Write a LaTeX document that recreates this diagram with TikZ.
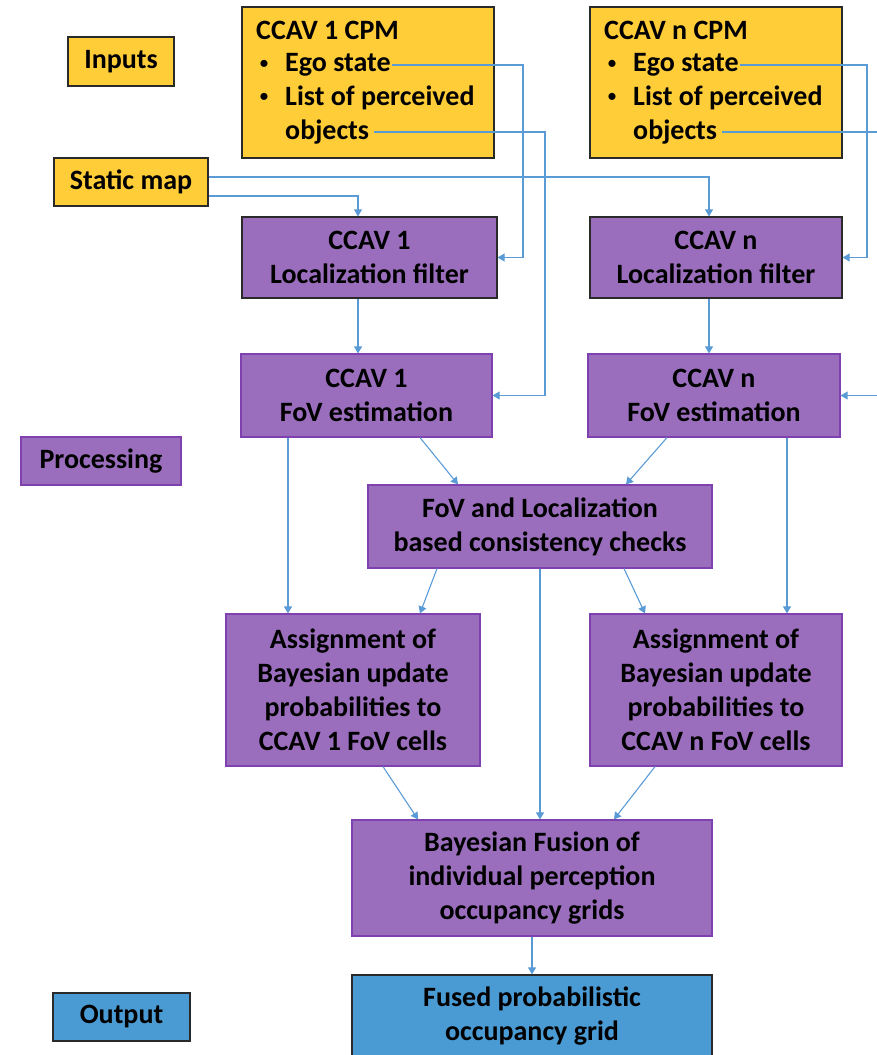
\documentclass[tikz,border=0pt]{standalone}
\usepackage{fontspec}
\setmainfont{Carlito}
\usetikzlibrary{arrows.meta}
\definecolor{gold}{HTML}{FFCD38}
\definecolor{purp}{HTML}{9A6EBC}
\definecolor{purpline}{HTML}{7F40B0}
\definecolor{outblue}{HTML}{4A9BD4}
\definecolor{arrblue}{HTML}{5B9BD5}
\definecolor{darkline}{HTML}{2A2A2A}
\tikzset{
  box/.style={draw, line width=1.2pt, inner sep=0pt, align=center, font=\bfseries\fontsize{28}{34}\selectfont},
  goldbox/.style={box, fill=gold, draw=darkline},
  purpbox/.style={box, fill=purp, draw=purpline},
  purpdark/.style={box, fill=purp, draw=darkline},
  bluebox/.style={box, fill=outblue, draw=darkline},
  txt/.style={inner sep=0pt, anchor=west, font=\bfseries\fontsize{28}{34}\selectfont},
  bul/.style={inner sep=0pt, font=\fontsize{20}{24}\selectfont},
  arr/.style={draw=arrblue, line width=1.1pt, -{Triangle[width=8pt,length=7pt]}},
}
\begin{document}
\begin{tikzpicture}[x=1pt,y=-1pt]
\useasboundingbox (0,0) rectangle (876,1055);
% input boxes
\node[goldbox, minimum width=106pt, minimum height=49pt] (inputs) at (121,61.5) {Inputs};
\node[goldbox, minimum width=252pt, minimum height=151pt] (cpm1) at (368,82.5) {};
\node[goldbox, minimum width=252pt, minimum height=151pt] (cpmn) at (716,82.5) {};
\node[goldbox, minimum width=154pt, minimum height=48pt] (static) at (131,182) {Static map};
% CPM 1 text
\node[txt] (t1) at (256,30) {CCAV 1 CPM};
\node[bul] (b1a) at (264,65) {\textbullet};
\node[txt] (ego1) at (285,65) {Ego state};
\node[bul] (b1b) at (264,98) {\textbullet};
\node[txt] (list1) at (285,98) {List of perceived};
\node[txt] (obj1) at (285,132) {objects};
% CPM n text
\node[txt] (tn) at (604,30) {CCAV n CPM};
\node[bul] (bna) at (612,65) {\textbullet};
\node[txt] (egon) at (633,65) {Ego state};
\node[bul] (bnb) at (612,98) {\textbullet};
\node[txt] (listn) at (633,98) {List of perceived};
\node[txt] (objn) at (633,132) {objects};
% processing
\node[purpdark, minimum width=255pt, minimum height=81pt] (loc1) at (369.5,257.5) {CCAV 1\\Localization filter};
\node[purpdark, minimum width=252pt, minimum height=81pt] (locn) at (716,257.5) {CCAV n\\Localization filter};
\node[purpbox, minimum width=251pt, minimum height=83pt] (fov1) at (366.5,395.5) {CCAV 1\\FoV estimation};
\node[purpbox, minimum width=252pt, minimum height=83pt] (fovn) at (714,395.5) {CCAV n\\FoV estimation};
\node[purpbox, minimum width=160pt, minimum height=48pt] (proc) at (101,461) {Processing};
\node[purpbox, minimum width=344pt, minimum height=83pt] (cons) at (540,526.5) {FoV and Localization\\based consistency checks};
\node[purpbox, minimum width=254pt, minimum height=152pt] (asg1) at (353,690) {Assignment of\\Bayesian update\\probabilities to\\CCAV 1 FoV cells};
\node[purpbox, minimum width=252pt, minimum height=152pt] (asgn) at (716,690) {Assignment of\\Bayesian update\\probabilities to\\CCAV n FoV cells};
\node[purpbox, minimum width=360pt, minimum height=116pt] (fus) at (532,878) {Bayesian Fusion of\\individual perception\\occupancy grids};
% output
\node[bluebox, minimum width=137pt, minimum height=48pt] (out) at (121.5,1017) {Output};
\node[bluebox, minimum width=360pt, minimum height=94pt] (fused) at (532,1022) {};
\node[inner sep=0pt, align=center, font=\bfseries\fontsize{28}{34}\selectfont] (fusedtxt) at (532,1016) {Fused probabilistic\\occupancy grid};
% helper coordinates
\coordinate (e1) at (522,0);
\coordinate (o1) at (540,0);
\coordinate (en) at (866,0);
\coordinate (on) at (882,0);
\coordinate (s1) at (358,0);
\coordinate (sn) at (709,0);
% connectors from CPMs
\draw[arr] ([xshift=1pt]ego1.east) -- ([xshift=1pt]ego1.east -| e1) |- (loc1.east);
\draw[arr] ([xshift=5pt]obj1.east) -- ([xshift=5pt]obj1.east -| o1) |- (fov1.east);
\draw[arr] ([xshift=1pt]egon.east) -- ([xshift=1pt]egon.east -| en) |- (locn.east);
\draw[arr] ([xshift=5pt]objn.east) -- ([xshift=5pt]objn.east -| on) |- (fovn.east);
% static map
\draw[arr] ([yshift=-14pt]static.east) -| (loc1.north -| s1);
\draw[arr] ([yshift=5pt]static.east) -| (locn.north -| sn);
% localization to FoV
\draw[arr] (loc1.south -| s1) -- (fov1.north -| s1);
\draw[arr] (locn.south -| sn) -- (fovn.north -| sn);
% FoV to consistency and assignment
\coordinate (a1x) at (288,0);
\coordinate (anx) at (787,0);
\draw[arr] (fov1.south -| a1x) -- (asg1.north -| a1x);
\draw[arr] (fovn.south -| anx) -- (asgn.north -| anx);
\draw[arr] ([xshift=53.5pt]fov1.south) -- ([xshift=-82pt]cons.north);
\draw[arr] ([xshift=-47pt]fovn.south) -- ([xshift=86pt]cons.north);
% consistency to assignment and fusion
\draw[arr] ([xshift=-103pt]cons.south) -- ([xshift=67pt]asg1.north);
\draw[arr] ([xshift=84pt]cons.south) -- ([xshift=-71pt]asgn.north);
\draw[arr] (cons.south) -- (cons.south |- fus.north);
% assignment to fusion
\draw[arr] ([xshift=30pt]asg1.south) -- ([xshift=-114pt]fus.north);
\draw[arr] ([xshift=-61pt]asgn.south) -- ([xshift=82pt]fus.north);
% fusion to output
\draw[arr] (fus.south) -- (fused.north);
\end{tikzpicture}
\end{document}
